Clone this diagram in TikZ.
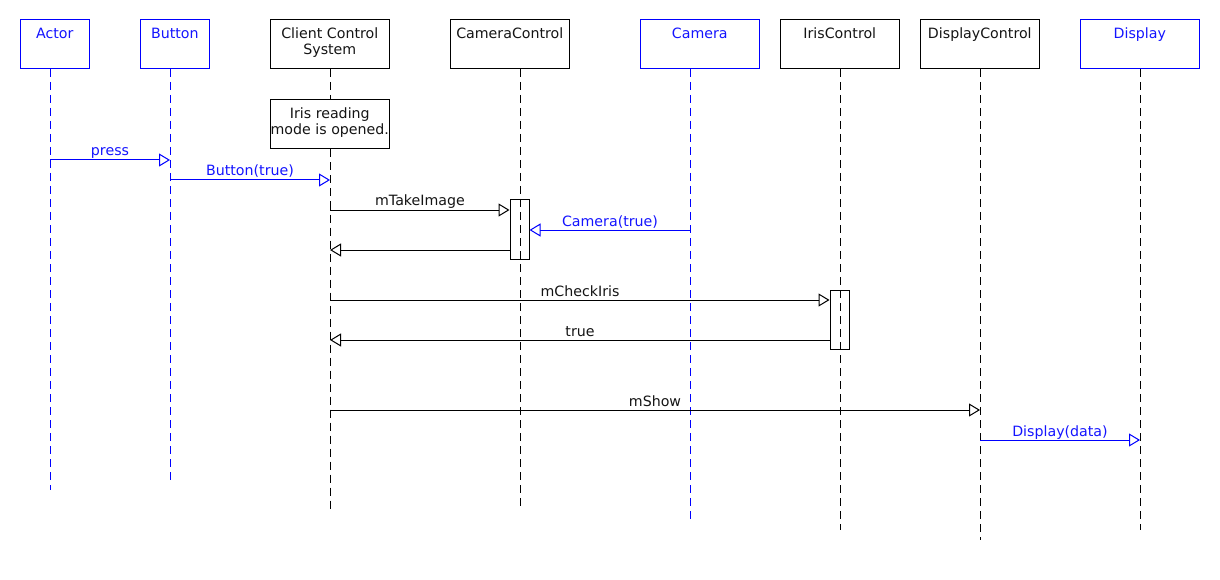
\documentclass[tikz,border=0pt]{standalone}
\usepackage{fontspec}
\setmainfont{DejaVu Sans}
\usetikzlibrary{arrows.meta}
\definecolor{tblue}{RGB}{20,20,255}
\definecolor{lblue}{RGB}{0,0,255}
\definecolor{tblack}{RGB}{20,20,20}
\begin{document}
\begin{tikzpicture}[x=1pt,y=-1pt,
  every node/.style={font=\fontsize{14.2pt}{16pt}\selectfont},
  pbox/.style={draw, line width=1pt, minimum height=49pt, inner sep=0pt},
  bluebox/.style={pbox, draw=lblue},
  blackbox/.style={pbox, draw=black},
  ptext/.style={anchor=base, align=center, inner sep=0pt},
  life/.style={line width=1pt, dash pattern=on 8pt off 5pt},
  msg/.style={line width=1pt, -{Triangle[open, length=11pt, width=13pt]}},
  mlabel/.style={anchor=base, inner sep=0pt, text=tblack},
  blabel/.style={anchor=base, inner sep=0pt, text=tblue},
  actbox/.style={draw, line width=1pt, minimum width=19pt, minimum height=59pt, inner sep=0pt}
]
\useasboundingbox (0,0) rectangle (1220,580);

% participant boxes
\node[bluebox, minimum width=69pt] (actor) at (54.8,44.5) {};
\node[bluebox, minimum width=69pt] (button) at (174.8,44.5) {};
\node[blackbox, minimum width=119pt] (ccs) at (329.8,44.5) {};
\node[blackbox, minimum width=119pt] (camctl) at (509.8,44.5) {};
\node[bluebox, minimum width=119pt] (camera) at (699.8,44.5) {};
\node[blackbox, minimum width=119pt] (irisctl) at (839.8,44.5) {};
\node[blackbox, minimum width=119pt] (dispctl) at (979.8,44.5) {};
\node[bluebox, minimum width=119pt] (display) at (1139.8,44.5) {};

% participant texts
\node[ptext, text=tblue] (tactor) at (54.8,38.5) {Actor};
\node[ptext, text=tblue] (tbutton) at (174.8,38.5) {Button};
\node[ptext, text=tblack] (tccs) at (329.8,54.5) {Client Control\\System};
\node[ptext, text=tblack] (tcamctl) at (509.8,38.5) {CameraControl};
\node[ptext, text=tblue] (tcamera) at (699.8,38.5) {Camera};
\node[ptext, text=tblack] (tirisctl) at (839.8,38.5) {IrisControl};
\node[ptext, text=tblack] (tdispctl) at (979.8,38.5) {DisplayControl};
\node[ptext, text=tblue] (tdisplay) at (1139.8,38.5) {Display};

% lifeline ends
\coordinate (Lactor) at (50,69);       \coordinate (Eactor) at (50,490);
\coordinate (Lbutton) at (170,69);     \coordinate (Ebutton) at (170,480);
\coordinate (Lccs) at (330,69);        \coordinate (Eccs) at (330,510);
\coordinate (Lcamctl) at (520,69);     \coordinate (Ecamctl) at (520,510);
\coordinate (Lcamera) at (690,69);     \coordinate (Ecamera) at (690,520);
\coordinate (Liris) at (840,69);       \coordinate (Eiris) at (840,530);
\coordinate (Ldisp) at (980,69);       \coordinate (Edisp) at (980,540);
\coordinate (Ldisplay) at (1140,69);   \coordinate (Edisplay) at (1140,530);

% note
\node[draw, line width=1pt, minimum width=119pt, minimum height=49pt, inner sep=0pt, fill=white] (note) at (329.8,124.5) {};

\draw[life, lblue] (Lactor) -- (Eactor);
\draw[life, lblue] (Lbutton) -- (Ebutton);
\draw[life] (Lccs) -- (note.north -| Lccs);
\draw[life] (note.south -| Lccs) -- (Eccs);
\draw[life] (Lcamctl) -- (Ecamctl);
\draw[life, lblue] (Lcamera) -- (Ecamera);
\draw[life] (Liris) -- (Eiris);
\draw[life] (Ldisp) -- (Edisp);
\draw[life] (Ldisplay) -- (Edisplay);

\node[ptext, text=tblack] (tnote) at (329.8,134.5) {Iris reading\\mode is opened.};

% activation boxes
\node[actbox] (act1) at (519.5,229.5) {};
\node[actbox] (act2) at (839.5,319.5) {};

% messages
\draw[msg, lblue] (Lactor |- 0,160) -- (Lbutton |- 0,160);
\node[blabel] (m1) at (110,156) {press};
\draw[msg, lblue] (Lbutton |- 0,180) -- (Lccs |- 0,180);
\node[blabel] (m2) at (250,176) {Button(true)};
\draw[msg] (Lccs |- 0,210) -- (act1.west |- 0,210);
\node[mlabel] (m3) at (420,206) {mTakeImage};
\draw[msg, lblue] (Lcamera |- 0,230) -- (act1.east |- 0,230);
\node[blabel] (m4) at (610,226) {Camera(true)};
\draw[msg] (act1.west |- 0,250) -- (Lccs |- 0,250);
\draw[msg] (Lccs |- 0,300) -- (act2.west |- 0,300);
\node[mlabel] (m5) at (580,296) {mCheckIris};
\draw[msg] (act2.west |- 0,340) -- (Lccs |- 0,340);
\node[mlabel] (m6) at (580,336) {true};
\draw[msg] (Lccs |- 0,410) -- (Ldisp |- 0,410);
\node[mlabel] (m7) at (655,406) {mShow};
\draw[msg, lblue] (Ldisp |- 0,440) -- (Ldisplay |- 0,440);
\node[blabel] (m8) at (1060,436) {Display(data)};
\end{tikzpicture}
\end{document}
